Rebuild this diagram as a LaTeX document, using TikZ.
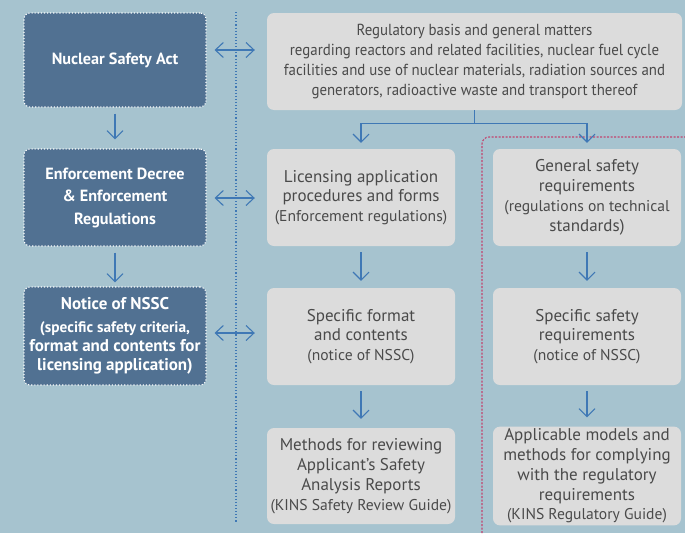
\documentclass[tikz,border=0pt]{standalone}
\usepackage{fontspec}
\setmainfont{PT Sans}
\usetikzlibrary{arrows.meta,calc}
\definecolor{bg}{HTML}{A6C3CF}
\definecolor{darkbox}{HTML}{517192}
\definecolor{graybox}{HTML}{DCDCDC}
\definecolor{arrowc}{HTML}{3F78B5}
\definecolor{txt}{HTML}{4A4A4A}
\definecolor{reddot}{HTML}{C2456F}
\newcommand{\sm}{\fontsize{15.6}{19}\selectfont}
\begin{document}
\begin{tikzpicture}[x=1pt,y=-1pt,
  lawbox/.style={draw=white,dotted,line width=1.1pt,fill=darkbox,rounded corners=6pt,
    text=white,font=\bfseries\fontsize{16.2}{22.5}\selectfont,align=center,
    minimum width=182pt,inner sep=2pt},
  gbox/.style={fill=graybox,rounded corners=7pt,text=txt,
    font=\fontsize{17}{19.8}\selectfont,align=center,minimum width=188pt,minimum height=97pt,inner sep=2pt},
  arr/.style={draw=arrowc,line width=1.1pt,-{Straight Barb[length=8pt,width=16pt,line width=1.1pt]}},
  dblarr/.style={draw=arrowc,line width=1.1pt,{Straight Barb[length=8pt,width=15pt,line width=1.1pt]}-{Straight Barb[length=8pt,width=15pt,line width=1.1pt]}},
  link/.style={draw=arrowc,line width=1.1pt}]
\fill[bg] (0,0) rectangle (685,533);
\useasboundingbox (0,0) rectangle (685,533);
% dotted separator
\draw[arrowc,dotted,line width=1.1pt] (236,12) -- (236,523);
% red dotted frame
\draw[reddot,dash pattern=on 2pt off 1.5pt,line width=1.1pt,rounded corners=7pt] (482,540) -- (482,137) -- (690,137);

% left column
\node[lawbox,minimum height=94pt] (nsa) at (115,60) {Nuclear Safety Act};
\node[lawbox,minimum height=97pt] (edr) at (115,197.5) {Enforcement Decree\\\& Enforcement\\Regulations};
\node[lawbox,minimum height=98pt,font=\bfseries\fontsize{17}{19}\selectfont] (nn) at (115,336)
  {Notice of NSSC\\[4pt]\fontsize{15.3}{19}\selectfont(specific safety criteria,\\format and contents for\\licensing application)};

% top box
\node[gbox,minimum width=415pt,font=\addfontfeature{FakeStretch=0.93}\fontsize{16}{20}\selectfont] (top) at (474.5,61.5)
  {Regulatory basis and general matters\\regarding reactors and related facilities, nuclear fuel cycle\\facilities and use of nuclear materials, radiation sources and\\generators, radioactive waste and transport thereof};

% middle column
\node[gbox] (lic) at (361,197.5) {Licensing application\\procedures and forms\\\sm(Enforcement regulations)};
\node[gbox] (sfc) at (361,336.5) {Specific format\\and contents\\\sm(notice of NSSC)};
\node[gbox,minimum height=96pt] (rev) at (361,476) {Methods for reviewing\\Applicant’s Safety\\Analysis Reports\\\sm(KINS Safety Review Guide)};

% right column
\node[gbox] (gsr) at (587,197.5) {General safety\\requirements\\\sm(regulations on technical\\standards)};
\node[gbox] (ssr) at (587,336.5) {Specific safety\\requirements\\\sm(notice of NSSC)};
\node[gbox,minimum height=96pt] (app) at (587,476) {Applicable models and\\methods for complying\\with the regulatory\\requirements\\\sm(KINS Regulatory Guide)};

% left vertical arrows
\draw[arr] ([yshift=-6pt]nsa.south) -- ([yshift=9pt]edr.north);
\draw[arr] ([yshift=-6pt]edr.south) -- ([yshift=4pt]nn.north);

% horizontal double arrows
\draw[dblarr] ([xshift=8pt,yshift=10pt]nsa.east) -- ([xshift=-12pt,yshift=11.5pt]top.west);
\draw[dblarr] ([xshift=8pt,yshift=-0.5pt]edr.east) -- ([xshift=-12pt,yshift=-0.5pt]lic.west);
\draw[dblarr] ([xshift=8pt,yshift=3pt]nn.east) -- ([xshift=-12pt,yshift=3.5pt]sfc.west);

% branch from top box
\draw[link] (top.south) -- ++(0,13) coordinate (br);
\draw[link] (br -| lic.north) -- (br -| gsr.north);
\draw[arr] (br -| lic.north) -- ([yshift=6pt]lic.north);
\draw[arr] (br -| gsr.north) -- ([yshift=6pt]gsr.north);

% column arrows
\draw[arr] ([yshift=-6pt]lic.south) -- ([yshift=7pt]sfc.north);
\draw[arr] ([yshift=-6pt]sfc.south) -- ([yshift=9pt]rev.north);
\draw[arr] ([yshift=-6pt]gsr.south) -- ([yshift=7pt]ssr.north);
\draw[arr] ([yshift=-6pt]ssr.south) -- ([yshift=9pt]app.north);
\end{tikzpicture}
\end{document}
